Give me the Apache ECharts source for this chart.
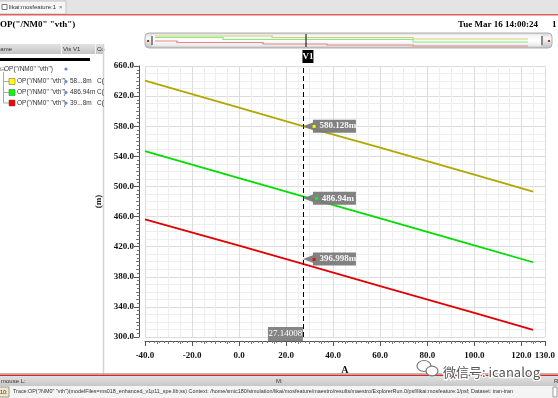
<!DOCTYPE html>
<html><head><meta charset="utf-8">
<script src="https://cdn.jsdelivr.net/npm/echarts@6/dist/echarts.min.js"></script>
<style>html,body{margin:0;padding:0;background:#fff}#c{width:558px;height:398px}</style>
</head><body><div id="c"></div>
<script>
// ---- data ----
const xValues     = [-40, 0, 27.14008, 60, 100, 125];
const traceYellow = [640.5, 604.6, 580.128, 551.5, 515.8, 493.0];
const traceGreen  = [547.0, 511.2, 486.94, 457.6, 421.7, 399.3];
const traceRed    = [456.4, 421.4, 396.998, 367.7, 332.0, 309.4];
const traceName   = 'OP("/NM0" "vth")';
const cursorX     = 27.14008;
const cursorIdx   = 2;
const cursorName  = 'V1';
const calloutText = ['580.128m', '486.94m', '396.998m'];
const panelValues = ['58...8m', '486.94m', '39...8m'];
const xMin = -40, xMax = 130, xStep = 20;
const yMin = 300, yMax = 660, yStep = 40;
const xName = 'A', yName = '(m)';
const titleText = 'OP("/NM0" "vth")';
const dateText = 'Tue Mar 16 14:00:24';
const statusText = 'Trace:OP("/NM0" "vth")(modelFiles=ms018_enhanced_v1p11_spe.lib;ss) Context: /home/smic180/simulation/likai/mosfeature/maestro/results/maestro/ExplorerRun.0/psf/likai:mosfeature:1/psf; Dataset: tran-tran';

const lineColors = ['#b0a800', '#00dd00', '#e00000'];
const dotColors  = ['#ffff00', '#00ff00', '#ff0000'];
const traces = [traceYellow, traceGreen, traceRed];
const calloutDy = [0, 2, -5];

const serif = 'Liberation Serif';
const sans = 'Liberation Sans';

const calloutPath = 'path://M0,7 L10,3 L10,0 L53,0 L53,14 L10,14 L10,11 Z';

const series = traces.map((t, i) => {
  const s = {
    type: 'line',
    name: traceName,
    data: xValues.map((x, k) => [x, t[k]]),
    showSymbol: false,
    lineStyle: { color: lineColors[i], width: 1.8 },
    itemStyle: { color: lineColors[i] },
    z: 3,
    markPoint: {
      silent: true,
      z: 6,
      data: [{
        coord: [cursorX, t[cursorIdx]],
        symbol: calloutPath,
        symbolSize: [53, 13],
        symbolOffset: [26.5, calloutDy[i]],
        itemStyle: { color: '#7a7a7a', opacity: 0.95 },
        label: {
          show: true, position: 'inside', offset: [5, 0],
          formatter: '{d|■} {t|' + calloutText[i] + '}',
          rich: {
            d: { color: dotColors[i], fontSize: 6 },
            t: { color: '#ffffff', fontSize: 9, fontFamily: serif, fontWeight: 'bold' }
          }
        }
      }]
    }
  };
  if (i === 0) {
    s.markLine = {
      silent: true, symbol: 'none', z: 5,
      lineStyle: { color: '#000', type: [5, 3], width: 1 },
      label: { show: false },
      data: [{ xAxis: cursorX }]
    };
    s.markPoint.data.push({
      coord: [cursorX, yMax], symbol: 'rect', symbolSize: [11, 13], symbolOffset: [5, -9.5],
      itemStyle: { color: '#000' },
      label: { show: true, position: 'inside', formatter: cursorName, color: '#fff', fontSize: 9, fontFamily: serif, fontWeight: 'bold' }
    }, {
      coord: [cursorX, yMin], symbol: 'rect', symbolSize: [35, 14], symbolOffset: [-17.5, -3],
      itemStyle: { color: '#858585' },
      label: { show: true, position: 'inside', formatter: cursorX.toFixed(5), color: '#fff', fontSize: 9, fontFamily: serif }
    });
  }
  return s;
});

const vgrad = (stops) => new echarts.graphic.LinearGradient(0, 0, 0, 1, stops);
const txt = (x, y, text, size, extra) => Object.assign({
  type: 'text', silent: true,
  style: Object.assign({ x: x, y: y, text: text, fontSize: size, fontFamily: sans, fill: '#222', verticalAlign: 'middle' }, extra || {})
});

const overviewY = [
  [[155, 36], [272, 36], [272, 37.5], [413, 37.5], [413, 39], [528, 39]],
  [[155, 37.5], [223, 37.5], [223, 39.5], [413, 39.5], [413, 42], [528, 42]],
  [[155, 41], [177, 41], [177, 42.5], [263, 42.5], [263, 44], [327, 44], [327, 45], [413, 45], [413, 46], [528, 46]]
];
const overviewColors = ['#d6cf70', '#7ef07e', '#ef8080'];

const graphics = [
  // window top bar and tab
  { type: 'rect', silent: true, shape: { x: 0, y: 0, width: 558, height: 14 }, style: { fill: '#e4e4e4' } },
  { type: 'rect', silent: true, shape: { x: -1, y: 1, width: 67, height: 13 }, style: { fill: '#f6f6f6', stroke: '#c4c4c4' } },
  { type: 'rect', silent: true, shape: { x: 2, y: 4.5, width: 5, height: 5 }, style: { fill: '#fff', stroke: '#777' } },
  txt(9, 7.5, 'likai:mosfeature:1', 6, { fill: '#333' }),
  txt(59, 7.5, '×', 6, { fill: '#666' }),
  { type: 'rect', silent: true, shape: { x: 0, y: 14, width: 558, height: 1.5 }, style: { fill: '#e06060' } },
  // title and date
  txt(0, 25, titleText, 9, { fontFamily: serif, fontWeight: 'bold', fill: '#000' }),
  txt(458, 25, dateText, 9, { fontFamily: serif, fontWeight: 'bold', fill: '#000' }),
  txt(552, 25, '1', 9, { fontFamily: serif, fontWeight: 'bold', fill: '#000' }),
  // left panel header
  { type: 'rect', silent: true, shape: { x: 0, y: 44, width: 104, height: 10 }, style: { fill: vgrad([{ offset: 0, color: '#e2e2e2' }, { offset: 1, color: '#c4c4c4' }]) } },
  { type: 'line', silent: true, shape: { x1: 61.5, y1: 44, x2: 61.5, y2: 54 }, style: { stroke: '#f4f4f4' } },
  { type: 'line', silent: true, shape: { x1: 95.5, y1: 44, x2: 95.5, y2: 54 }, style: { stroke: '#f4f4f4' } },
  txt(-4, 49, 'Name', 6, { fill: '#333' }),
  txt(63, 49, 'Vis V1', 6, { fill: '#333' }),
  txt(97, 49, 'Co', 6, { fill: '#333' }),
  { type: 'rect', silent: true, shape: { x: 0, y: 58, width: 90, height: 3 }, style: { fill: '#000' } },
  { type: 'line', silent: true, shape: { x1: 103.5, y1: 44, x2: 103.5, y2: 375 }, style: { stroke: '#d4d4d4', lineWidth: 1.5 } },
  // tree rows
  txt(0, 69, '⊟', 6, { fill: '#666' }),
  txt(4, 69, traceName, 6.5, { fill: '#333' }),
  { type: 'circle', silent: true, shape: { cx: 66, cy: 69, r: 1.6 }, style: { fill: '#6a8ad0' } },
  { type: 'polyline', silent: true, shape: { points: [[3.5, 72], [3.5, 103], [9, 103]] }, style: { stroke: '#aaa', fill: null } },
  { type: 'line', silent: true, shape: { x1: 3.5, y1: 81.5, x2: 9, y2: 81.5 }, style: { stroke: '#aaa' } },
  { type: 'line', silent: true, shape: { x1: 3.5, y1: 92.5, x2: 9, y2: 92.5 }, style: { stroke: '#aaa' } }
];
[81.5, 92.5, 103].forEach((y, i) => {
  graphics.push(
    { type: 'rect', silent: true, shape: { x: 9, y: y - 3, width: 6, height: 6 }, style: { fill: dotColors[i], stroke: '#555', lineWidth: 0.5 } },
    txt(17, y, traceName, 6.5, { fill: '#333' }),
    { type: 'circle', silent: true, shape: { cx: 66, cy: y, r: 1.6 }, style: { fill: '#6a8ad0' } },
    txt(70, y, panelValues[i], 6.5, { fill: '#333' }),
    txt(97, y, 'C(', 6.5, { fill: '#333' })
  );
});
// overview strip
graphics.push(
  { type: 'rect', silent: true, shape: { x: 145, y: 33, width: 407, height: 15, r: 4 }, style: { fill: vgrad([{ offset: 0, color: '#cfcfcf' }, { offset: 0.35, color: '#fbfbfb' }, { offset: 1, color: '#bdbdbd' }]), stroke: '#b0b0b0' } },
  { type: 'rect', silent: true, shape: { x: 152, y: 34.5, width: 389, height: 12 }, style: { fill: vgrad([{ offset: 0, color: '#f2f2f2' }, { offset: 0.5, color: '#ffffff' }, { offset: 1, color: '#e6e6e6' }]) } },
  { type: 'rect', silent: true, shape: { x: 151, y: 36, width: 2, height: 9 }, style: { fill: '#8a8a8a' } },
  { type: 'rect', silent: true, shape: { x: 541, y: 36, width: 2, height: 9 }, style: { fill: '#8a8a8a' } },
  { type: 'rect', silent: true, shape: { x: 147, y: 40, width: 2, height: 2 }, style: { fill: '#e02020' } },
  { type: 'rect', silent: true, shape: { x: 548, y: 40, width: 2, height: 2 }, style: { fill: '#e02020' } }
);
overviewY.forEach((pts, i) => graphics.push({ type: 'polyline', silent: true, shape: { points: pts }, style: { stroke: overviewColors[i], lineWidth: 1.2, fill: null } }));
graphics.push({ type: 'line', silent: true, shape: { x1: 306, y1: 34, x2: 306, y2: 47 }, style: { stroke: '#000', lineWidth: 1 } });
// bottom bars
graphics.push(
  { type: 'line', silent: true, shape: { x1: 0, y1: 373.5, x2: 558, y2: 373.5 }, style: { stroke: '#b8b8b8' } },
  { type: 'rect', silent: true, shape: { x: 0, y: 374.5, width: 558, height: 1.5 }, style: { fill: '#d02a2a' } },
  { type: 'rect', silent: true, shape: { x: 0, y: 376, width: 558, height: 10 }, style: { fill: vgrad([{ offset: 0, color: '#e0e0e0' }, { offset: 1, color: '#c8c8c8' }]) } },
  txt(1, 381, 'mouse L:', 6, { fill: '#333' }),
  txt(276, 381, 'M:', 6, { fill: '#333' }),
  txt(554, 381, 'R', 6, { fill: '#333' }),
  { type: 'rect', silent: true, shape: { x: 0, y: 386, width: 558, height: 12 }, style: { fill: '#f4f4f4' } },
  { type: 'rect', silent: true, shape: { x: -1, y: 387, width: 10, height: 10 }, style: { fill: '#f0e8c8', stroke: '#999' } },
  txt(0, 392, '10:', 5.5, { fill: '#333' }),
  txt(13, 392, statusText, 5.4, { fill: '#333' }),
  { type: 'rect', silent: true, shape: { x: 553, y: 387, width: 4, height: 10 }, style: { fill: '#fff', stroke: '#999' } }
);
// watermark
graphics.push(
  { type: 'ellipse', silent: true, z: 100, shape: { cx: 424, cy: 366, rx: 7, ry: 5.5 }, style: { fill: '#fff', stroke: '#777', lineWidth: 1.2 } },
  { type: 'ellipse', silent: true, z: 100, shape: { cx: 432, cy: 371, rx: 6, ry: 4.8 }, style: { fill: '#fff', stroke: '#777', lineWidth: 1.2 } },
  { type: 'text', silent: true, z: 101, style: { x: 443, y: 372, text: '微信号: icanalog', fontSize: 13, fontFamily: 'Noto Sans CJK SC', fill: '#555', stroke: '#fff', lineWidth: 2.5, verticalAlign: 'middle' } }
);

const axisFont = { fontFamily: serif, fontWeight: 'bold', fontSize: 9, color: '#111' };

const option = {
  animation: false,
  backgroundColor: '#ffffff',
  grid: { left: 145, right: 8, top: 66, bottom: 61 },
  xAxis: [{
    type: 'value', min: xMin, max: xMax, interval: xStep, offset: 4, position: 'bottom',
    name: xName, nameLocation: 'middle', nameGap: 24,
    nameTextStyle: { fontFamily: serif, fontWeight: 'bold', fontSize: 10, color: '#111' },
    axisLine: { show: true, onZero: false, lineStyle: { color: '#555' } },
    axisTick: { show: true, length: 5, lineStyle: { color: '#555' } },
    minorTick: { show: true, splitNumber: 4, length: 3, lineStyle: { color: '#777' } },
    axisLabel: Object.assign({ margin: 10, formatter: v => v.toFixed(1), showMaxLabel: true }, axisFont),
    splitLine: { show: true, lineStyle: { color: '#dcdcdc', width: 1 } },
    minorSplitLine: { show: true, lineStyle: { color: '#eeeeee', width: 1 } }
  }, {
    type: 'value', min: xMin, max: xMax, interval: xStep, offset: 4, position: 'bottom', gridIndex: 0,
    axisLine: { show: false, onZero: false }, axisTick: { show: false }, axisLabel: { show: false }, splitLine: { show: false },
    minorTick: { show: true, splitNumber: 10, length: 2, lineStyle: { color: '#777' } }
  }],
  yAxis: [{
    type: 'value', min: yMin, max: yMax, interval: yStep, offset: 6, position: 'left',
    name: yName, nameLocation: 'middle', nameGap: 31, nameRotate: 90,
    nameTextStyle: { fontFamily: serif, fontWeight: 'bold', fontSize: 9, color: '#111' },
    axisLine: { show: true, onZero: false, lineStyle: { color: '#555' } },
    axisTick: { show: true, length: 5, lineStyle: { color: '#555' } },
    minorTick: { show: true, splitNumber: 4, length: 3, lineStyle: { color: '#777' } },
    axisLabel: Object.assign({ margin: 5, formatter: v => v.toFixed(1) }, axisFont),
    splitLine: { show: true, lineStyle: { color: '#dcdcdc', width: 1 } },
    minorSplitLine: { show: true, lineStyle: { color: '#eeeeee', width: 1 } }
  }, {
    type: 'value', min: yMin, max: yMax, interval: yStep, offset: 6, position: 'left', gridIndex: 0,
    axisLine: { show: false, onZero: false }, axisTick: { show: false }, axisLabel: { show: false }, splitLine: { show: false },
    minorTick: { show: true, splitNumber: 8, length: 2, lineStyle: { color: '#777' } }
  }],
  graphic: { elements: graphics },
  series: series
};

const chart = echarts.init(document.getElementById('c'), null, { renderer: 'canvas' });
chart.setOption(option);
</script>
</body></html>
